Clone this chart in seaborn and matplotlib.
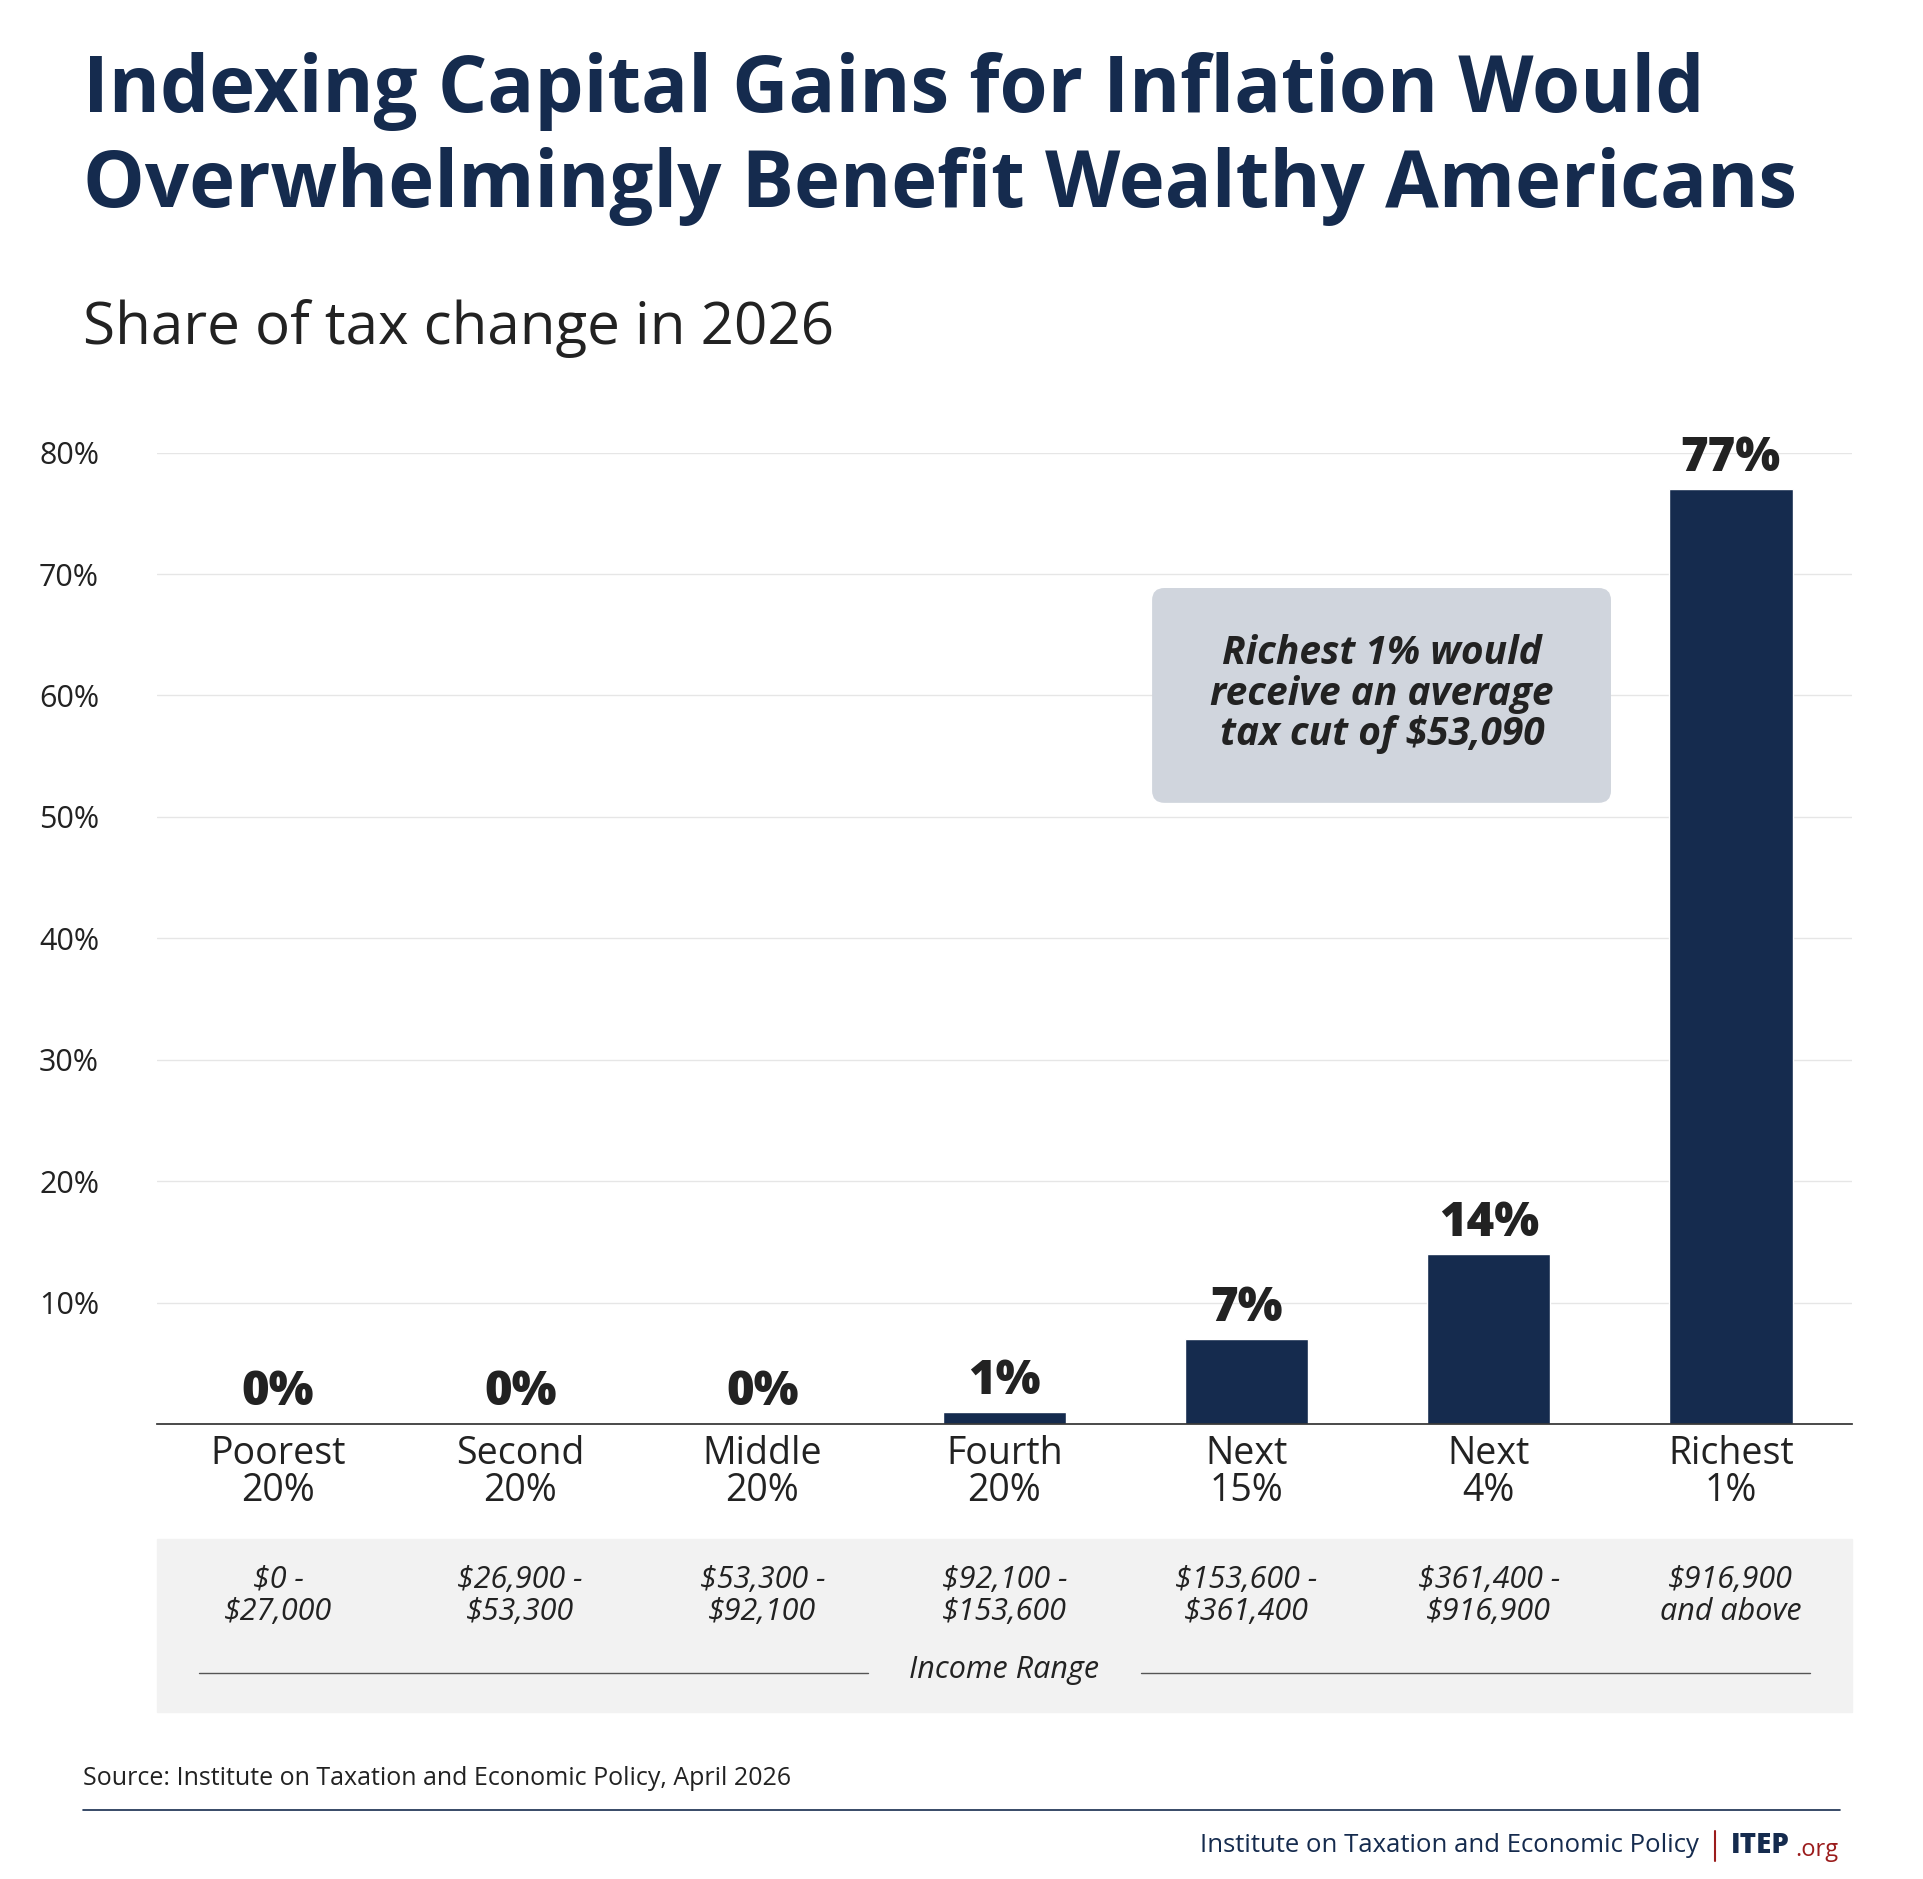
import matplotlib
matplotlib.use("Agg")
import matplotlib.pyplot as plt
import seaborn as sns
import pandas as pd
from matplotlib.patches import Rectangle, FancyBboxPatch
from matplotlib.lines import Line2D

groups = ["Poorest\n20%", "Second\n20%", "Middle\n20%", "Fourth\n20%", "Next\n15%", "Next\n4%", "Richest\n1%"]
shares = [0.1, 0.1, 0.1, 1, 7, 14, 77]
labels = ["0%", "0%", "0%", "1%", "7%", "14%", "77%"]
ranges = ["$0 -\n$27,000", "$26,900 -\n$53,300", "$53,300 -\n$92,100", "$92,100 -\n$153,600",
          "$153,600 -\n$361,400", "$361,400 -\n$916,900", "$916,900\nand above"]
yticks = [10, 20, 30, 40, 50, 60, 70, 80]

sns.set_theme(style="white")
plt.rcParams['font.family'] = ['Open Sans', 'DejaVu Sans']
NAVY = "#152b4e"
DARK = "#222222"

df = pd.DataFrame({"g": groups, "v": shares})
fig = plt.figure(figsize=(19.23, 18.79), dpi=100)
W, H = 1568, 1532
def fx(x): return x / W
def fy(y): return 1 - y / H

ax = fig.add_axes([fx(128), fy(1161), fx(1510) - fx(128), fy(369) - fy(1161)])
sns.barplot(data=df, x="g", y="v", color=NAVY, width=0.51, ax=ax, saturation=1)
ax.set_ylim(0, 80)
ax.set_xlim(-0.5, 6.5)
ax.set_yticks(yticks)
ax.set_yticklabels([f"{t}%" for t in yticks], fontsize=22, color=DARK)
ax.yaxis.grid(True, color="#e6e6e6", lw=1)
ax.set_axisbelow(True)
for s in ["top", "right", "left"]:
    ax.spines[s].set_visible(False)
ax.spines["bottom"].set_color("#333333")
ax.tick_params(axis="y", length=0, pad=30)
ax.tick_params(axis="x", length=0, pad=8)
ax.set_xticks(range(len(groups)))
ax.set_xticklabels(groups, fontsize=27, color=DARK, linespacing=0.95)
ax.set_xlabel(""); ax.set_ylabel("")
for lab in ax.get_yticklabels():
    lab.set_horizontalalignment("left")
    lab.set_x(-0.045)
for i, (v, l) in enumerate(zip(shares, labels)):
    ax.text(i, v + 0.5, l, ha="center", va="bottom", fontsize=34, fontweight="heavy", color=DARK)

# gray income range band
fig.patches.append(Rectangle((fx(128), fy(1396)), fx(1510) - fx(128), fy(1255) - fy(1396),
                             transform=fig.transFigure, color="#f2f2f2", zorder=0))
for i, r in enumerate(ranges):
    xd = 128 + (i + 0.5) * (1510 - 128) / 7
    fig.text(fx(xd), fy(1301), r, ha="center", va="center", fontsize=22, style="italic",
             color=DARK, linespacing=1.1)
fig.text(fx(819), fy(1362), "Income Range", ha="center", va="center", fontsize=22, style="italic", color=DARK)
fig.add_artist(Line2D([fx(162), fx(708)], [fy(1364)] * 2, color="#555555", lw=1))
fig.add_artist(Line2D([fx(930), fx(1476)], [fy(1364)] * 2, color="#555555", lw=1))

# annotation box
fig.patches.append(FancyBboxPatch((fx(940), fy(654)), fx(1313) - fx(940), fy(480) - fy(654),
                                  boxstyle="round,pad=0,rounding_size=0.006", transform=fig.transFigure,
                                  color="#d0d5dd", zorder=3))
fig.text(fx(1127), fy(566), "Richest 1% would\nreceive an average\ntax cut of $53,090",
         ha="center", va="center", fontsize=28, fontweight="bold", style="italic", color=DARK,
         linespacing=1.05, zorder=4)

# titles
fig.text(fx(68), fy(75), "Indexing Capital Gains for Inflation Would", fontsize=56, fontweight="bold",
         color=NAVY, va="center")
fig.text(fx(68), fy(152), "Overwhelmingly Benefit Wealthy Americans", fontsize=56, fontweight="bold",
         color=NAVY, va="center")
fig.text(fx(68), fy(268), "Share of tax change in 2026", fontsize=42, color=DARK, va="center")

# footer
fig.text(fx(68), fy(1450), "Source: Institute on Taxation and Economic Policy, April 2026", fontsize=18,
         color=DARK, va="center")
fig.add_artist(Line2D([fx(68), fx(1500)], [fy(1476)] * 2, color=NAVY, lw=1.2))
fig.text(fx(1385), fy(1505), "Institute on Taxation and Economic Policy", fontsize=18.5, color=NAVY,
         va="center", ha="right")
fig.add_artist(Line2D([fx(1398), fx(1398)], [fy(1493), fy(1517)], color="#9b1c1c", lw=1.5))
fig.text(fx(1411), fy(1505), "ITEP", fontsize=20, fontweight="heavy", color=NAVY, va="center")
fig.text(fx(1464), fy(1508), ".org", fontsize=17, color="#9b1c1c", va="center")

fig.savefig("out.png", dpi=100, facecolor="white")
